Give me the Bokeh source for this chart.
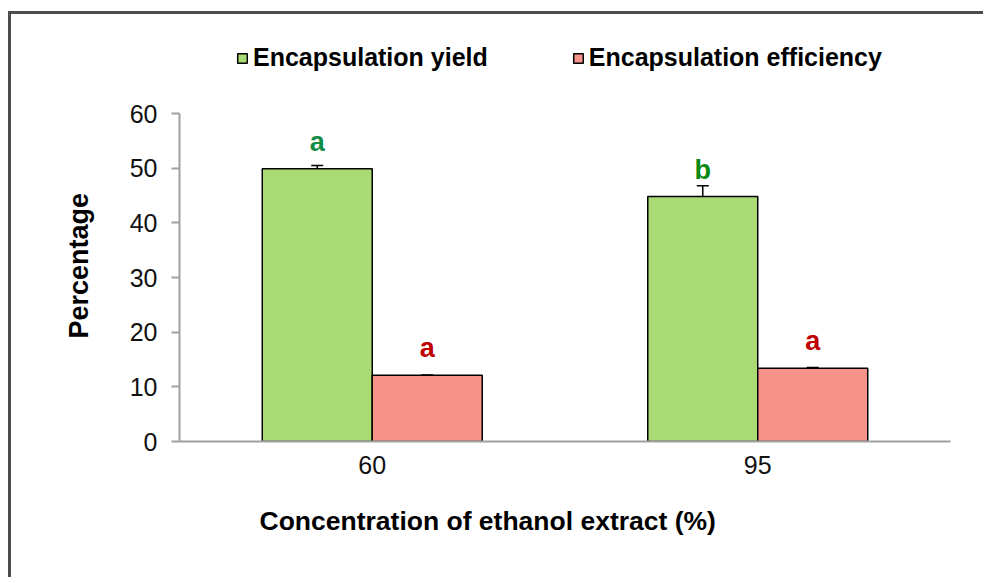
from bokeh.plotting import figure
from bokeh.models import (ColumnDataSource, Range1d, Whisker, TeeHead, Legend, LegendItem,
                          FixedTicker, Title)
from bokeh.core.properties import value
from bokeh.embed import file_html
from bokeh.resources import INLINE

categories = ["60", "95"]
yield_vals = [49.9, 44.8]
yield_err = [0.6, 2.0]
eff_vals = [12.1, 13.4]
eff_err = [0.05, 0.12]
yield_letters = ["a", "b"]
eff_letters = ["a", "a"]
yield_letter_colors = ["#138c44", "#0b8a12"]
eff_letter_colors = ["#c00000", "#c00000"]
y_ticks = [0, 10, 20, 30, 40, 50, 60]
y_axis_max = 60
x_title = "Concentration of ethanol extract (%)"
y_title = "Percentage"

FONT = "Liberation Sans"
BAR_W = 0.2853

centers = [i + 0.5 for i in range(len(categories))]


def make_src(vals, errs, letters, colors, off):
    return ColumnDataSource(dict(
        x=[c + off for c in centers], top=vals,
        upper=[v + e for v, e in zip(vals, errs)],
        lower=[v - e for v, e in zip(vals, errs)],
        letter=letters, color=colors))


src_y = make_src(yield_vals, yield_err, yield_letters, yield_letter_colors, -BAR_W / 2)
src_e = make_src(eff_vals, eff_err, eff_letters, eff_letter_colors, BAR_W / 2)

# frame extends above the 0-60 axis to hold the legend
FRAME_H = 411
AXIS_H = 328
p = figure(width=975, height=566, output_backend="svg", toolbar_location=None,
           x_range=Range1d(0, len(categories)),
           y_range=Range1d(0, y_axis_max * FRAME_H / AXIS_H),
           min_border_left=168, min_border_right=36, min_border_top=16, min_border_bottom=139,
           styles={"border-top": "3px solid #4d4d4d", "border-left": "3px solid #4d4d4d",
                   "margin-left": "8px", "margin-top": "11px"})
p.background_fill_color = "white"
p.border_fill_color = "white"
p.outline_line_color = None
p.grid.visible = False

r_y = p.vbar(x="x", top="top", width=BAR_W, source=src_y,
             fill_color="#a9da74", line_color="black", line_width=1.5)
r_e = p.vbar(x="x", top="top", width=BAR_W, source=src_e,
             fill_color="#f8938a", line_color="black", line_width=1.5)

for src in (src_y, src_e):
    w = Whisker(base="x", upper="upper", lower="lower", source=src,
                line_color="black", line_width=1.5,
                upper_head=TeeHead(size=12, line_color="black", line_width=1.5),
                lower_head=TeeHead(size=12, line_color="black", line_width=1.5))
    p.add_layout(w)
    p.text(x="x", y="top", text="letter", text_color="color", source=src,
           y_offset=-27, text_align="center", text_baseline="alphabetic",
           text_font=value(FONT), text_font_style="bold", text_font_size="27px")

# y axis
p.yaxis.ticker = FixedTicker(ticks=y_ticks)
p.yaxis.bounds = (0, y_axis_max)
p.yaxis.axis_line_color = "#a0a0a0"
p.yaxis.axis_line_width = 2
p.yaxis.major_tick_line_color = "#a0a0a0"
p.yaxis.major_tick_line_width = 2
p.yaxis.major_tick_out = 8
p.yaxis.major_tick_in = 0
p.yaxis.minor_tick_line_color = None
p.yaxis.major_label_text_font = FONT
p.yaxis.major_label_text_font_size = "25px"
p.yaxis.major_label_text_color = "#111111"
p.yaxis.major_label_standoff = 14

# x axis (categories)
p.xaxis.ticker = FixedTicker(ticks=centers)
p.xaxis.major_label_overrides = {c: cat for c, cat in zip(centers, categories)}
p.xaxis.axis_line_color = "#a0a0a0"
p.xaxis.axis_line_width = 2
p.xaxis.major_tick_line_color = None
p.xaxis.minor_tick_line_color = None
p.xaxis.major_label_text_font = FONT
p.xaxis.major_label_text_font_size = "25px"
p.xaxis.major_label_text_color = "#111111"
p.xaxis.major_label_standoff = 8

# axis titles, positioned as in the original
p.add_layout(Title(text=x_title, align="left", offset=80, standoff=54,
                   text_font=FONT, text_font_style="bold", text_font_size="26.5px",
                   text_color="black"), "below")
p.add_layout(Title(text=y_title, align="left", offset=103, standoff=66,
                   text_font=FONT, text_font_style="bold", text_font_size="27px",
                   text_color="black"), "left")

legend = Legend(items=[LegendItem(label="Encapsulation yield", renderers=[r_y]),
                       LegendItem(label="Encapsulation efficiency", renderers=[r_e])],
                orientation="horizontal", location=(57, 369),
                glyph_width=12, glyph_height=12, label_standoff=5, spacing=84,
                padding=0, margin=0, border_line_color=None, background_fill_alpha=0,
                label_text_font=FONT, label_text_font_style="bold", label_text_font_size="25px",
                label_text_color="black")
p.add_layout(legend, "center")

open("out.html", "w").write(file_html(p, INLINE))
